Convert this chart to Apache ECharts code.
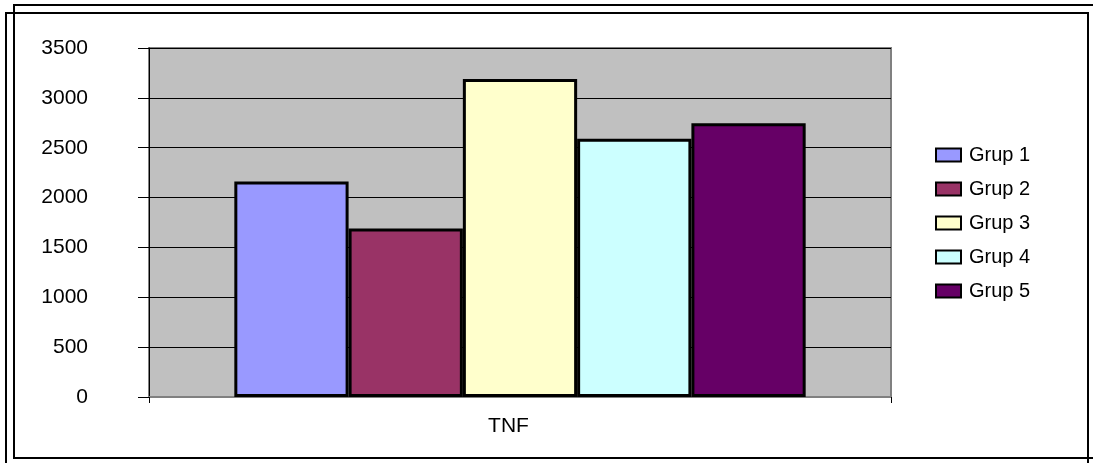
<!DOCTYPE html>
<html>
<head>
<meta charset="utf-8">
<script src="https://cdn.jsdelivr.net/npm/echarts@6/dist/echarts.min.js"></script>
<style>
  html, body { margin: 0; padding: 0; background: #ffffff; }
  #chart { width: 1093px; height: 463px; }
</style>
</head>
<body>
<div id="chart"></div>
<script>
// Categories and values
const categories = ['TNF'];
const groupNames = ['Grup 1', 'Grup 2', 'Grup 3', 'Grup 4', 'Grup 5'];
const groupValues = [2160, 1690, 3190, 2590, 2745];
const groupColors = ['#9999FF', '#993366', '#FFFFCC', '#CCFFFF', '#660066'];
const yTicks = [0, 500, 1000, 1500, 2000, 2500, 3000, 3500];

const FONT = '"Liberation Sans", Arial, sans-serif';

const series = groupNames.map((name, i) => ({
  name: name,
  type: 'bar',
  data: [groupValues[i]],
  barGap: '0%',
  barCategoryGap: '23%',
  itemStyle: { color: groupColors[i], borderColor: '#000000', borderWidth: 3 }
}));

const chart = echarts.init(document.getElementById('chart'), null, { renderer: 'canvas' });
chart.setOption({
  animation: false,
  backgroundColor: '#ffffff',
  textStyle: { fontFamily: FONT },
  grid: {
    left: 149, top: 48, width: 742, height: 349,
    show: true, backgroundColor: '#C0C0C0',
    borderColor: '#808080', borderWidth: 2
  },
  legend: {
    orient: 'vertical',
    left: 935, top: 145,
    padding: 0,
    itemWidth: 25, itemHeight: 13, itemGap: 14,
    icon: 'rect',
    data: groupNames,
    itemStyle: { borderColor: '#000000', borderWidth: 2 },
    textStyle: { fontFamily: FONT, fontSize: 20, color: '#000000', padding: [0, 0, 0, 3] }
  },
  xAxis: {
    type: 'category',
    data: categories,
    axisLine: { lineStyle: { color: '#808080', width: 2 } },
    axisTick: { show: true, length: 6, lineStyle: { color: '#000000' } },
    axisLabel: {
      fontFamily: FONT, fontSize: 21, color: '#000000', margin: 19,
      padding: [0, 23, 0, 0]
    }
  },
  yAxis: {
    type: 'value',
    min: 0, max: 3500, interval: 500,
    axisLine: { show: true, lineStyle: { color: '#000000', width: 1 } },
    axisTick: { show: true, length: 11, lineStyle: { color: '#000000' } },
    axisLabel: {
      fontFamily: FONT, fontSize: 21, color: '#000000', margin: 61,
      formatter: v => yTicks.includes(v) ? String(v) : ''
    },
    splitLine: { show: true, lineStyle: { color: '#000000', width: 1 } }
  },
  series: series,
  graphic: [
    {
      type: 'rect', silent: true,
      shape: { x: 6, y: 13, width: 1082, height: 500 },
      style: { fill: 'none', stroke: '#000000', lineWidth: 2 }
    },
    {
      type: 'rect', silent: true,
      shape: { x: 14, y: 5, width: 1100, height: 453 },
      style: { fill: 'none', stroke: '#000000', lineWidth: 2 }
    }
  ]
});
</script>
</body>
</html>
